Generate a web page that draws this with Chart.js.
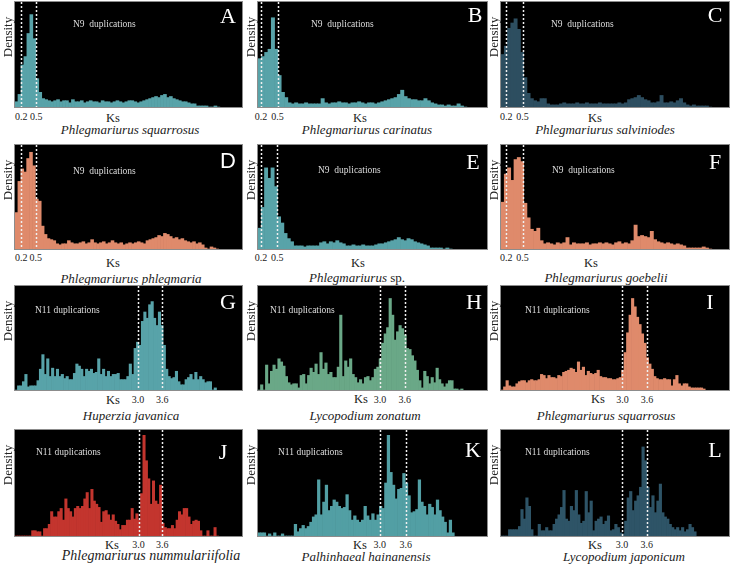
<!DOCTYPE html>
<html>
<head>
<meta charset="utf-8">
<script src="https://cdn.jsdelivr.net/npm/chart.js@4.4.1/dist/chart.umd.min.js"></script>
<style>
  body { margin: 0; background: #fff; width: 733px; height: 565px; position: relative; overflow: hidden; font-family: "Liberation Serif", "Times New Roman", serif; }
  .box { position: absolute; background: #000; border: 1px solid #8c8c8c; box-sizing: border-box; }
  .box canvas { position: absolute; left: 0; top: 0; }
  .t { position: absolute; white-space: nowrap; line-height: 1; transform: translate(-50%, -50%); color: #222; }
  .letter { color: #fff; font-size: 22px; }
  .dup { color: #ddd; font-size: 9.5px; transform: translate(0, -50%); }
  .dens { font-size: 13px; transform: translate(-50%, -50%) rotate(-90deg); }
  .ks { font-size: 12.5px; }
  .tick { font-size: 10px; }
  .sp { font-size: 13px; font-style: italic; }
</style>
</head>
<body>
<script>
// Ks histograms, bar heights as % of panel height, bins 0.06 Ks wide
const binWidth = 0.06;

const heightsA = [5,12,40,48,70,88,65,27,14,8,7,
  6,5,6,7,5,6,6,4,7,5,5,6,4,5,6,5,5,4,6,5,5,4,5,6,5,4,5,6,6,5,4,5,6,7,
  8,9,10,9,11,12,9,10,8,7,
  6,5,5,4,3,3,1,1,1,1,0,0,1,0];
const heightsB = [46,48,52,55,85,55,30,14,9,4,
  3,4,3,3,4,3,3,3,3,8,4,3,4,4,5,4,4,3,4,4,5,4,3,4,4,3,4,5,
  6,7,8,9,12,16,10,
  8,7,7,6,6,8,6,4,3,
  2,2,1,2,1,1,3,1,0];
const heightsC = [50,58,75,80,84,74,52,28,13,8,6,5,8,8,
  3,2,2,2,3,4,3,3,3,4,3,3,4,3,3,3,4,3,3,3,3,3,4,3,4,
  7,8,9,11,9,7,6,
  4,4,5,11,4,4,5,4,6,8,4,
  2,1,2,1,1,1,1,0];
const heightsD = [35,65,77,74,87,93,80,48,46,22,14,10,9,8,5,
  4,5,5,8,6,5,5,6,7,5,6,9,6,5,6,7,5,6,8,6,5,6,4,5,6,5,6,7,6,5,
  8,9,10,11,13,12,15,14,12,10,11,9,10,8,7,
  6,7,5,6,4,1,0,2,1,0];
const heightsE = [20,40,78,68,78,60,31,25,15,10,7,
  3,3,3,2,3,3,3,3,
  6,7,5,7,6,8,6,5,
  3,3,4,3,3,4,3,3,3,4,
  5,5,6,7,8,9,
  11,9,8,10,9,7,6,5,4,3,
  1,1,1,1,0,1,0];
const heightsF = [45,72,78,66,86,88,84,44,30,19,17,20,8,
  5,6,5,4,6,5,6,11,4,6,5,5,5,6,4,5,5,6,5,6,5,4,6,7,5,6,5,
  8,23,12,13,12,11,17,9,
  7,6,5,6,5,4,5,4,3,
  1,1,1,1,1,2,1,0];
const heightsG = [0,4,4,8,15,3,4,4,4,9,20,34,15,30,13,21,13,20,13,15,11,13,10,10,16,25,23,20,13,20,
  18,20,16,17,30,15,20,13,18,13,15,15,16,10,10,10,13,25,15,40,46,43,66,75,69,82,85,69,62,75,
  62,43,20,13,11,12,18,8,5,5,10,12,15,10,17,10,13,10,7,8,8,0,2];
const heightsH = [0,5,0,24,6,18,24,20,30,27,23,13,7,5,6,6,2,14,15,6,14,21,17,25,15,36,20,26,15,17,
  12,12,22,72,13,28,22,30,15,12,7,10,6,12,13,9,12,20,22,30,45,54,60,88,72,48,56,62,59,53,
  40,39,33,28,19,9,2,18,13,6,12,7,21,10,6,3,6,9,9,1,1,0,1];
const heightsI = [0,3,9,4,3,3,6,8,9,9,7,9,10,9,9,10,15,14,11,14,12,12,11,14,13,17,18,19,21,20,
  17,27,19,22,14,18,16,15,16,19,13,12,12,11,11,10,10,11,12,19,36,55,72,88,80,70,63,54,45,31,
  25,20,13,11,10,10,11,10,10,4,10,14,6,4,6,6,3,2,2,2,2,2,1];
const heightsJ = [0,0,0,0,0,0,0,5,5,4,4,0,7,7,11,23,18,18,23,26,15,35,26,23,18,26,28,26,28,35,
  41,26,44,33,30,27,13,23,24,20,15,20,14,11,6,10,10,15,15,26,16,21,15,40,95,71,54,30,52,33,
  30,48,12,8,7,7,10,7,15,23,20,26,26,18,11,14,15,14,5,0,0,5,0,0,8,0];
const heightsK = [3,3,3,0,2,0,3,0,0,2,0,0,0,0,11,4,7,10,7,9,13,18,20,53,20,32,48,24,28,34,
  32,28,26,27,39,24,15,19,15,13,15,28,19,15,21,15,20,28,26,50,95,60,48,35,44,45,59,50,38,22,
  23,25,53,32,28,20,30,27,20,34,24,18,13,3,15,3];
const heightsL = [0,0,0,6,6,6,6,9,25,16,36,28,6,0,0,11,5,5,8,5,5,11,16,20,27,43,16,14,28,24,
  43,20,12,14,42,22,33,5,14,16,18,11,14,19,5,6,11,8,3,2,14,36,42,24,33,38,46,84,71,46,
  27,38,22,33,49,22,18,16,11,8,6,8,5,8,4,6,11,8,4];

const panelLetters = ['A','B','C','D','E','F','G','H','I','J','K','L'];
const speciesNames = ['Phlegmariurus squarrosus','Phlegmariurus carinatus','Phlegmariurus salviniodes',
  'Phlegmariurus phlegmaria','Phlegmariurus sp.','Phlegmariurus goebelii',
  'Huperzia javanica','Lycopodium zonatum','Phlegmariurus squarrosus',
  'Phlegmariurus nummulariifolia','Palhinhaeal hainanensis','Lycopodium japonicum'];
const dupLabels = ['N9  duplications','N11 duplications'];
const peakKsN9 = [0.2, 0.5];
const peakKsN11 = [3.0, 3.6];
const peakLabelsN9 = ['0.2','0.5'];
const peakLabelsN11 = ['3.0','3.6'];
const ksMin = [0.073,0.146,0.102,0.071,0.145,0.102,-0.04,0.04,0.04,-0.133,0.17,0.064];
const ksMax = [4.66,4.29,4.32,4.75,4.39,4.32,5.57,5.6,5.6,5.62,5.49,5.6];

const allHeights = [heightsA,heightsB,heightsC,heightsD,heightsE,heightsF,heightsG,heightsH,heightsI,heightsJ,heightsK,heightsL];
const colors = ['#58a3a9','#58a3a9','#2d4e60','#df8a6b','#58a3a9','#df8a6b',
  '#58a3a9','#6aa887','#df8a6b','#c3352e','#529fa4','#2e5467'];

// layout
const cols = [[14,243],[257,488],[500,730]];
const rows = [[1,108],[144,250],[285,391],[429,537]];
const letterPos = [[228,16],[475,15],[715,15],[228,161],[473,162],[715,162],[228,302],[474,302],[710,302],[223,452],[473,450],[715,450]];
const dupPos = [[73,25],[311,25],[551,25],[73,172],[318,171],[552,171],[35,311],[270,311],[525,311],[36,453],[278,453],[525,453]];
const ksPos = [[113,118],[360,118],[595,118],[113,263],[358,263],[591,263],[113,400],[361,399],[598,399],[112,545],[360,545],[595,545]];
const tickY = [117,258,400,545];
const spPos = [[130,129],[367,129],[605,129],[131,278],[357,277],[606,277],[131,415],[365,415],[606,415],[151,556],[366,556],[624,556]];

const dotLines = {
  id: 'dotLines',
  afterDatasetsDraw(chart, args, opts) {
    const { ctx, chartArea, scales: { x } } = chart;
    ctx.save();
    ctx.strokeStyle = '#f0f0f0';
    ctx.lineWidth = 1.5;
    ctx.setLineDash([2, 2]);
    opts.values.forEach(v => {
      const px = Math.round(x.getPixelForValue(v)) + 0.5;
      ctx.beginPath();
      ctx.moveTo(px, chartArea.top);
      ctx.lineTo(px, chartArea.bottom);
      ctx.stroke();
    });
    ctx.restore();
  }
};

function addText(cls, html, x, y) {
  const d = document.createElement('div');
  d.className = 't ' + cls;
  d.innerHTML = html;
  d.style.left = x + 'px';
  d.style.top = y + 'px';
  document.body.appendChild(d);
  return d;
}

panelLetters.forEach((letter, p) => {
  const r = Math.floor(p / 3), c = p % 3;
  const left = cols[c][0], top = rows[r][0];
  const w = cols[c][1] - left, h = rows[r][1] - top;
  const isN9 = r < 2;
  const peaks = isN9 ? peakKsN9 : peakKsN11;

  const box = document.createElement('div');
  box.className = 'box';
  box.style.left = left + 'px';
  box.style.top = top + 'px';
  box.style.width = w + 'px';
  box.style.height = h + 'px';
  const cv = document.createElement('canvas');
  cv.width = w - 2;
  cv.height = h - 2;
  box.appendChild(cv);
  document.body.appendChild(box);

  const pts = allHeights[p].map((v, i) => ({ x: ksMin[p] + (i + 0.5) * binWidth, y: v }));

  const chart = new Chart(cv, {
    type: 'bar',
    data: {
      datasets: [{
        data: pts,
        backgroundColor: colors[p],
        borderWidth: 0,
        barPercentage: 1,
        categoryPercentage: 1
      }]
    },
    options: {
      responsive: false,
      animation: false,
      events: [],
      layout: { padding: 0 },
      plugins: {
        legend: { display: false },
        tooltip: { enabled: false },
        dotLines: { values: peaks }
      },
      scales: {
        x: { type: 'linear', min: ksMin[p], max: ksMax[p], offset: false, display: false },
        y: { min: 0, max: 100, display: false }
      }
    },
    plugins: [dotLines]
  });

  // texts
  const lt = addText('letter', letter, letterPos[p][0], letterPos[p][1]);
  if (letter === 'D') lt.style.fontFamily = '"Liberation Sans", Arial, sans-serif';
  addText('dup', isN9 ? dupLabels[0].replace('  ', '&nbsp; ') : dupLabels[1], dupPos[p][0], dupPos[p][1]);
  addText('dens', 'Density', left - 7, top + 36);
  addText('ks', 'Ks', ksPos[p][0], ksPos[p][1]);
  const labs = isN9 ? peakLabelsN9 : peakLabelsN11;
  peaks.forEach((v, i) => {
    addText('tick', labs[i], left + 1 + chart.scales.x.getPixelForValue(v), tickY[r]);
  });
  let name = speciesNames[p];
  if (name.endsWith(' sp.')) name = '<i>' + name.slice(0, -4) + '</i><span style="font-style:normal"> sp.</span>';
  const sp = addText('sp', name, spPos[p][0], spPos[p][1]);
  if (p === 9) sp.style.fontSize = '14px';
});
</script>
</body>
</html>
